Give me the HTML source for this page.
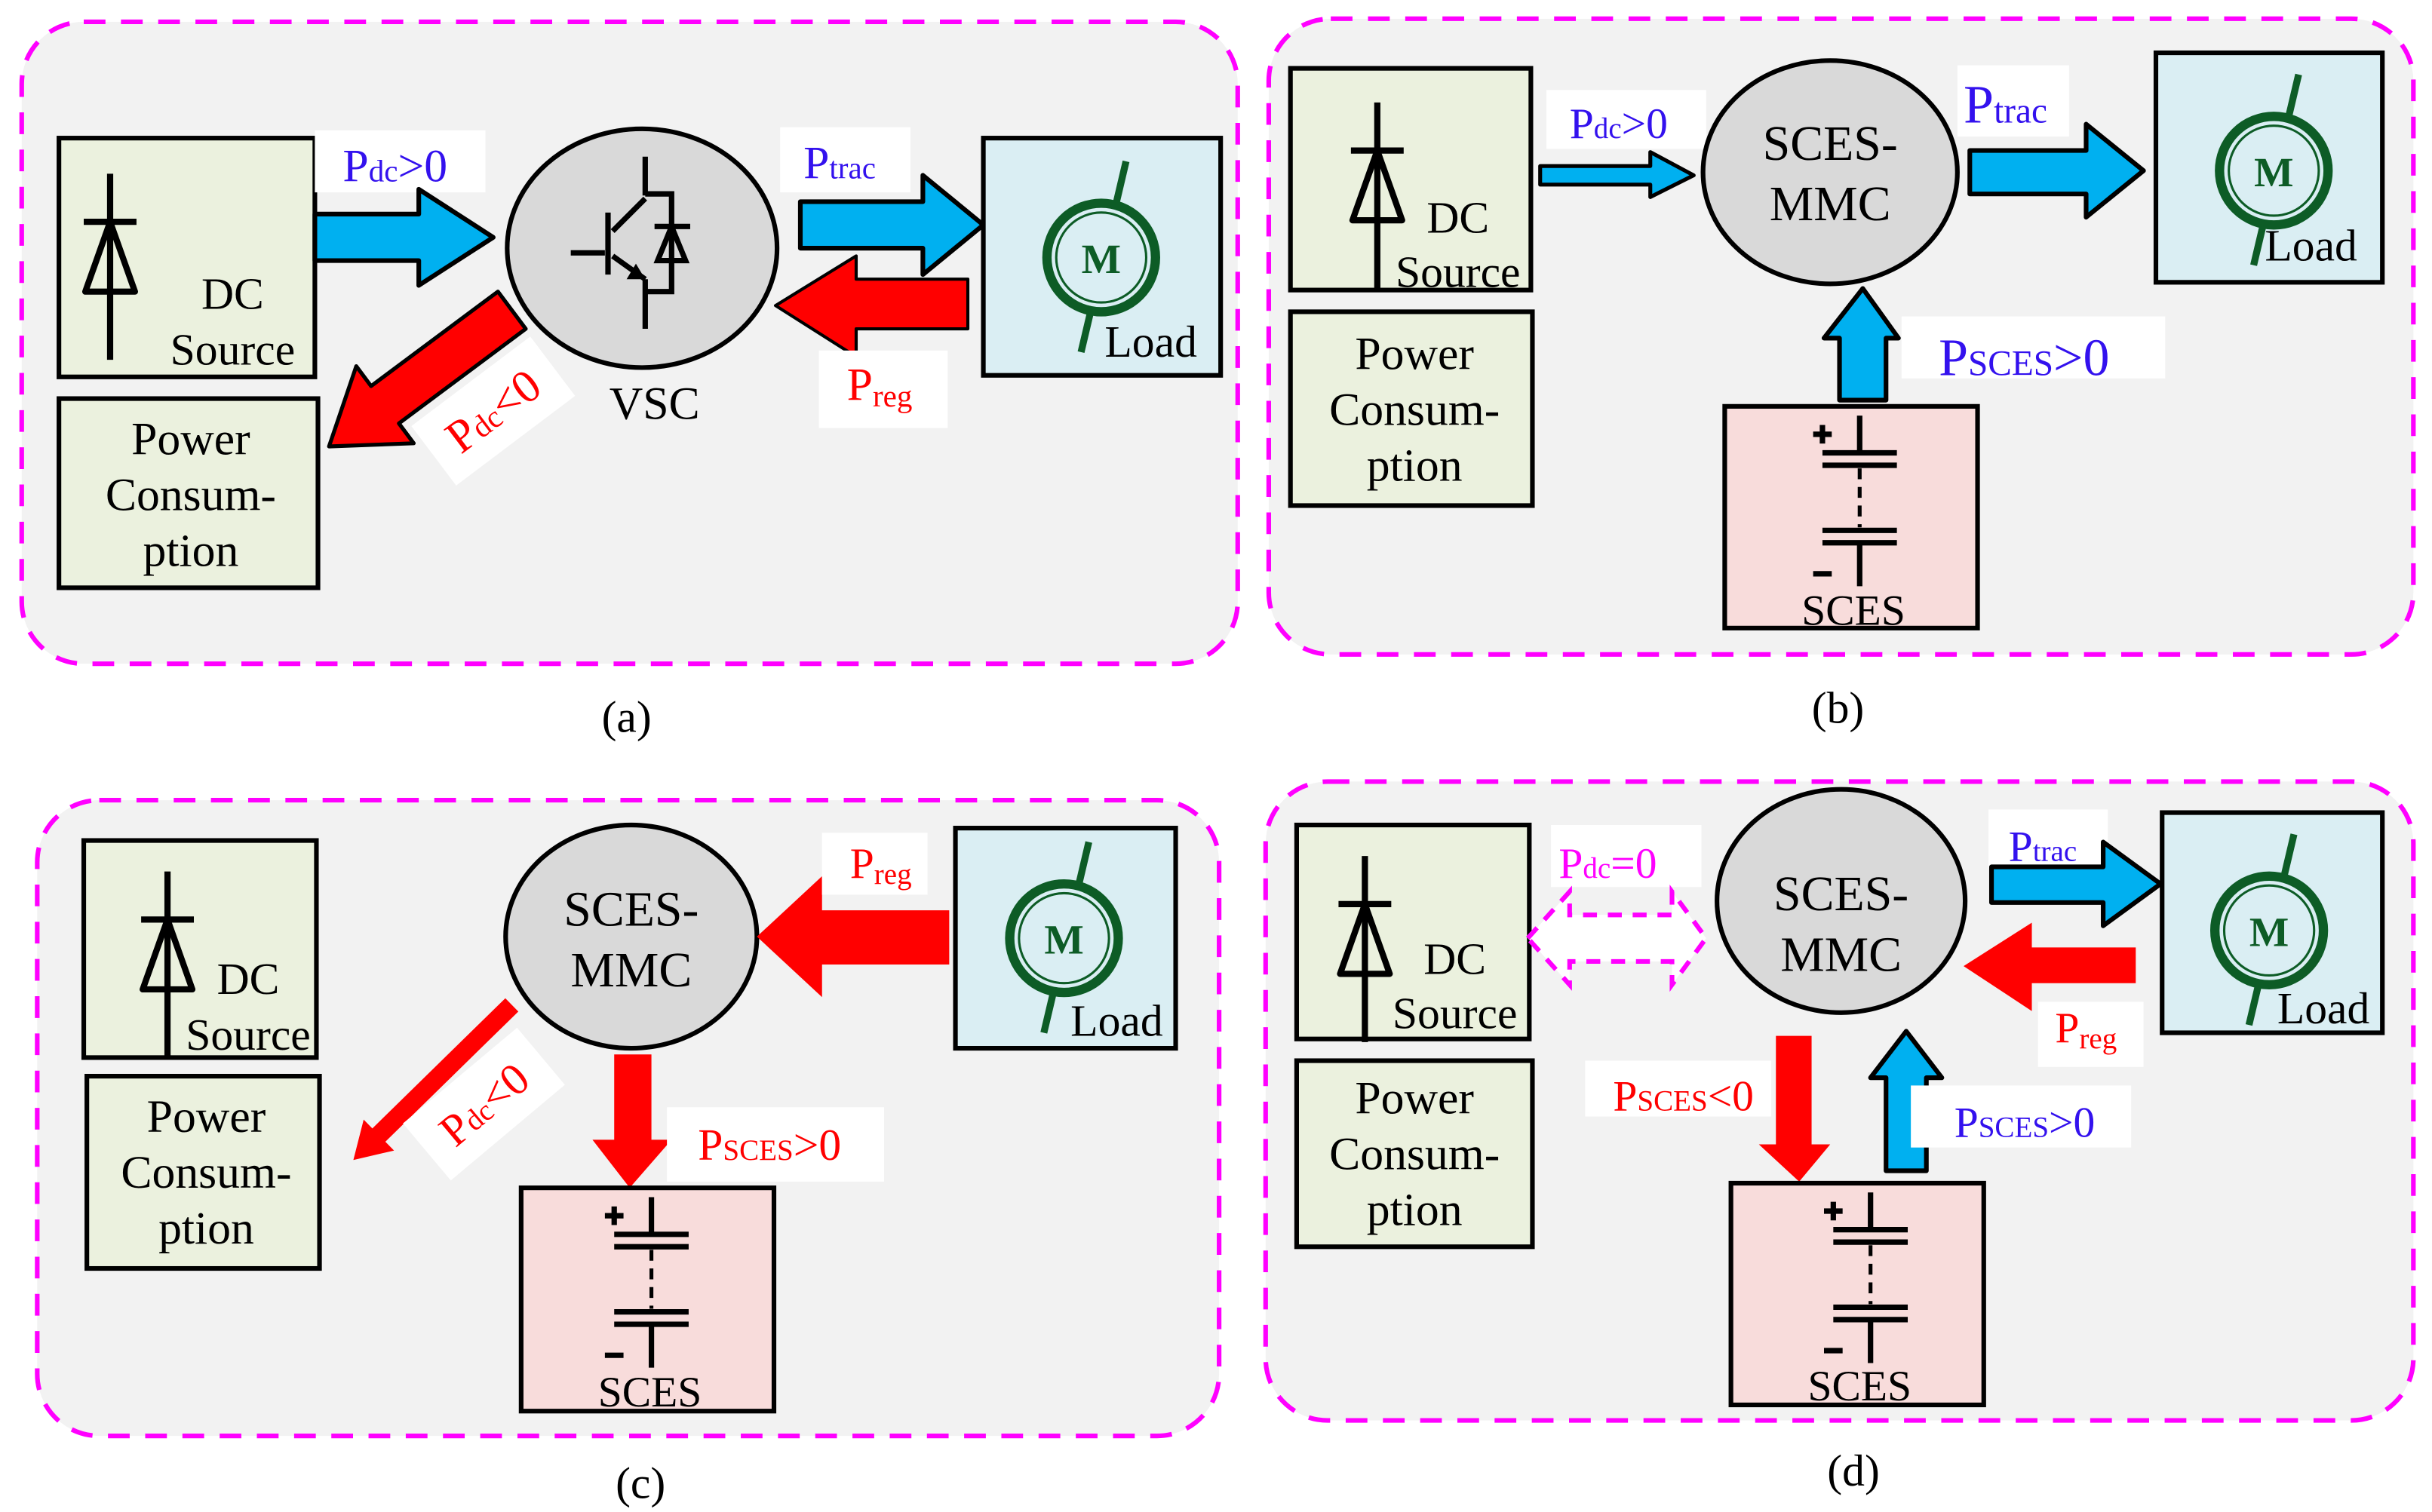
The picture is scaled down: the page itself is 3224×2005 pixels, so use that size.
<!DOCTYPE html>
<html><head><meta charset="utf-8"><style>
html,body{margin:0;padding:0;background:#fff;}
svg{display:block;}
text{font-family:"Liberation Serif",serif;}
</style></head><body>
<svg width="3224" height="2005" viewBox="0 0 1568 975" xmlns="http://www.w3.org/2000/svg">
<defs>
<g id="diode">
<line x1="0" y1="-31" x2="0" y2="89" stroke="#000" stroke-width="4"/>
<line x1="-17" y1="0" x2="17" y2="0" stroke="#000" stroke-width="4"/>
<polygon points="0,0 -16,45 16,45" fill="none" stroke="#000" stroke-width="4" stroke-linejoin="round"/>
</g>
<g id="motor">
<line x1="16" y1="-62" x2="-13" y2="61" stroke="#0d5c26" stroke-width="4.5"/>
<circle cx="0" cy="0" r="35" fill="#daeef3" stroke="#0d5c26" stroke-width="6"/>
<circle cx="0" cy="0" r="29" fill="none" stroke="#0d5c26" stroke-width="1.5"/>
<text x="0" y="10" font-size="27" font-weight="bold" fill="#0d5c26" text-anchor="middle">M</text>
</g>
<g id="batt" stroke="#000" stroke-width="3.5">
<line x1="0" y1="0" x2="0" y2="24"/>
<line x1="-24" y1="24" x2="24" y2="24"/>
<line x1="-24" y1="32" x2="24" y2="32"/>
<line x1="0" y1="34" x2="0" y2="72" stroke-dasharray="7,5" stroke-width="2.5"/>
<line x1="-24" y1="74" x2="24" y2="74"/>
<line x1="-24" y1="82" x2="24" y2="82"/>
<line x1="0" y1="82" x2="0" y2="110"/>
<line x1="-30" y1="12" x2="-18" y2="12"/>
<line x1="-24" y1="6" x2="-24" y2="18"/>
<line x1="-30" y1="102" x2="-18" y2="102"/>
</g>
</defs>

<!-- panel frames -->
<g fill="#f2f2f2" stroke="#ff00ff" stroke-width="3" stroke-dasharray="14,10">
<rect x="14" y="14" width="784" height="414" rx="40"/>
<rect x="818" y="12" width="738" height="410" rx="40"/>
<rect x="24" y="516" width="762" height="410" rx="40"/>
<rect x="816" y="504" width="740" height="412" rx="40"/>
</g>

<g font-size="29" fill="#000" text-anchor="middle">
<text x="404" y="472">(a)</text>
<text x="1185" y="466">(b)</text>
<text x="413" y="966">(c)</text>
<text x="1195" y="958">(d)</text>
</g>

<!-- ===== Panel A ===== -->
<rect x="38" y="89" width="165" height="154" fill="#ebf1de" stroke="#000" stroke-width="3"/>
<use href="#diode" x="71" y="143"/>
<text x="150" y="199" font-size="29" text-anchor="middle">DC</text>
<text x="150" y="235" font-size="29" text-anchor="middle">Source</text>
<rect x="38" y="257" width="167" height="122" fill="#ebf1de" stroke="#000" stroke-width="3"/>
<g font-size="30" text-anchor="middle"><text x="123" y="293">Power</text><text x="123" y="329">Consum-</text><text x="123" y="365">ption</text></g>
<rect x="203" y="84" width="110" height="40" fill="#fff"/>
<text x="221" y="117" font-size="30" fill="#3311ee">P<tspan font-size="20">dc</tspan>&gt;0</text>
<polygon points="203,138 270,138 270,122 318,153 270,184 270,168 203,168" fill="#00b0f0" stroke="#000" stroke-width="3" stroke-linejoin="round"/>
<ellipse cx="414" cy="160" rx="87" ry="77" fill="#d9d9d9" stroke="#000" stroke-width="3"/>
<g stroke="#000" stroke-width="3.5" fill="none">
<line x1="416" y1="101" x2="416" y2="126"/>
<line x1="416" y1="128" x2="395" y2="149"/>
<line x1="392" y1="137" x2="392" y2="177"/>
<line x1="368" y1="163" x2="390" y2="163"/>
<line x1="395" y1="165" x2="416" y2="180"/>
<line x1="416" y1="180" x2="416" y2="212"/>
<polyline points="416,125 433,125 433,188 416,188"/>
<line x1="422" y1="146" x2="445" y2="146"/>
<polygon points="433,146 424,168 442,168"/>
</g>
<polygon points="416,180 404,180 410,170" fill="#000"/>
<text x="422" y="270" font-size="30" text-anchor="middle">VSC</text>
<rect x="503" y="82" width="84" height="42" fill="#fff"/>
<text x="518" y="115" font-size="30" fill="#3311ee">P<tspan font-size="20">trac</tspan></text>
<polygon points="516,130 595,130 595,113 634,145 595,177 595,160 516,160" fill="#00b0f0" stroke="#000" stroke-width="3" stroke-linejoin="round"/>
<polygon points="624,180 552,180 552,165 500,197 552,230 552,212 624,212" fill="#ff0000" stroke="#000" stroke-width="2" stroke-linejoin="round"/>
<rect x="528" y="226" width="83" height="50" fill="#fff"/>
<text x="546" y="258" font-size="30" fill="#ff0000">P<tspan font-size="20" dy="4">reg</tspan></text>
<rect x="634" y="89" width="153" height="153" fill="#daeef3" stroke="#000" stroke-width="3"/>
<use href="#motor" x="710" y="166"/>
<text x="742" y="230" font-size="29" text-anchor="middle">Load</text>
<polygon points="0,-15 102,-15 102,-31 147,0 102,31 102,15 0,15" transform="translate(330,200) rotate(143.3)" fill="#ff0000" stroke="#000" stroke-width="2.5" stroke-linejoin="round"/>
<g transform="translate(318,265) rotate(-37)">
<rect x="-48" y="-24" width="96" height="48" fill="#fff"/>
<text x="0" y="10" font-size="30" fill="#ff0000" text-anchor="middle">P<tspan font-size="20">dc</tspan>&lt;0</text>
</g>

<!-- ===== Panel B ===== -->
<rect x="832" y="44" width="155" height="143" fill="#ebf1de" stroke="#000" stroke-width="3"/>
<use href="#diode" x="888" y="97"/>
<text x="940" y="150" font-size="29" text-anchor="middle">DC</text>
<text x="940" y="185" font-size="29" text-anchor="middle">Source</text>
<rect x="832" y="201" width="156" height="125" fill="#ebf1de" stroke="#000" stroke-width="3"/>
<g font-size="30" text-anchor="middle"><text x="912" y="238">Power</text><text x="912" y="274">Consum-</text><text x="912" y="310">ption</text></g>
<rect x="997" y="58" width="103" height="38" fill="#fff"/>
<text x="1012" y="89" font-size="28" fill="#3311ee">P<tspan font-size="19">dc</tspan>&gt;0</text>
<polygon points="993,107 1064,107 1064,98 1092,113 1064,127 1064,119 993,119" fill="#00b0f0" stroke="#000" stroke-width="2.5" stroke-linejoin="round"/>
<ellipse cx="1180" cy="111" rx="82" ry="72" fill="#d9d9d9" stroke="#000" stroke-width="3"/>
<g font-size="32" text-anchor="middle"><text x="1180" y="103">SCES-</text><text x="1180" y="142">MMC</text></g>
<rect x="1262" y="42" width="72" height="46" fill="#fff"/>
<text x="1266" y="79" font-size="35" fill="#3311ee">P<tspan font-size="23">trac</tspan></text>
<polygon points="1270,97 1345,97 1345,80 1382,110 1345,140 1345,125 1270,125" fill="#00b0f0" stroke="#000" stroke-width="3" stroke-linejoin="round"/>
<rect x="1390" y="34" width="146" height="148" fill="#daeef3" stroke="#000" stroke-width="3"/>
<use href="#motor" x="1466" y="110"/>
<text x="1490" y="168" font-size="29" text-anchor="middle">Load</text>
<polygon points="1186,258 1186,218 1176,218 1201,186 1224,218 1216,218 1216,258" fill="#00b0f0" stroke="#000" stroke-width="3" stroke-linejoin="round"/>
<rect x="1226" y="204" width="170" height="40" fill="#fff"/>
<text x="1250" y="242" font-size="34" fill="#3311ee">P<tspan font-size="23">SCES</tspan>&gt;0</text>
<rect x="1112" y="262" width="163" height="143" fill="#f8dcdb" stroke="#000" stroke-width="3"/>
<use href="#batt" x="1199" y="268"/>
<text x="1195" y="403" font-size="28" text-anchor="middle">SCES</text>

<!-- ===== Panel C ===== -->
<rect x="54" y="542" width="150" height="140" fill="#ebf1de" stroke="#000" stroke-width="3"/>
<use href="#diode" x="108" y="593"/>
<text x="160" y="641" font-size="29" text-anchor="middle">DC</text>
<text x="160" y="677" font-size="29" text-anchor="middle">Source</text>
<rect x="56" y="694" width="150" height="124" fill="#ebf1de" stroke="#000" stroke-width="3"/>
<g font-size="30" text-anchor="middle"><text x="133" y="730">Power</text><text x="133" y="766">Consum-</text><text x="133" y="802">ption</text></g>
<ellipse cx="407" cy="604" rx="81" ry="72" fill="#d9d9d9" stroke="#000" stroke-width="3"/>
<g font-size="32" text-anchor="middle"><text x="407" y="597">SCES-</text><text x="407" y="636">MMC</text></g>
<rect x="616" y="534" width="142" height="142" fill="#daeef3" stroke="#000" stroke-width="3"/>
<use href="#motor" x="686" y="605"/>
<text x="720" y="668" font-size="29" text-anchor="middle">Load</text>
<polygon points="612,587 530,587 530,565 488,604 530,643 530,622 612,622" fill="#ff0000"/>
<rect x="530" y="537" width="68" height="40" fill="#fff"/>
<text x="548" y="566" font-size="28" fill="#ff0000">P<tspan font-size="19" dy="4">reg</tspan></text>
<polygon points="396,680 420,680 420,735 433,735 406,766 382,735 396,735" fill="#ff0000"/>
<rect x="430" y="714" width="140" height="48" fill="#fff"/>
<text x="450" y="748" font-size="29" fill="#ff0000">P<tspan font-size="19">SCES</tspan>&gt;0</text>
<rect x="336" y="766" width="163" height="144" fill="#f8dcdb" stroke="#000" stroke-width="3"/>
<use href="#batt" x="420" y="772"/>
<text x="419" y="907" font-size="28" text-anchor="middle">SCES</text>
<polygon points="0,-6 120,-6 120,-14 143,0 120,14 120,6 0,6" transform="translate(330,648) rotate(135.6)" fill="#ff0000"/>
<g transform="translate(312,712) rotate(-40)">
<rect x="-48" y="-24" width="96" height="48" fill="#fff"/>
<text x="0" y="10" font-size="29" fill="#ff0000" text-anchor="middle">P<tspan font-size="19">dc</tspan>&lt;0</text>
</g>

<!-- ===== Panel D ===== -->
<rect x="836" y="532" width="150" height="138" fill="#ebf1de" stroke="#000" stroke-width="3"/>
<use href="#diode" x="880" y="583"/>
<text x="938" y="628" font-size="29" text-anchor="middle">DC</text>
<text x="938" y="663" font-size="29" text-anchor="middle">Source</text>
<rect x="836" y="684" width="152" height="120" fill="#ebf1de" stroke="#000" stroke-width="3"/>
<g font-size="30" text-anchor="middle"><text x="912" y="718">Power</text><text x="912" y="754">Consum-</text><text x="912" y="790">ption</text></g>
<rect x="1000" y="532" width="97" height="40" fill="#fff"/>
<text x="1005" y="566" font-size="28" fill="#ff00ff">P<tspan font-size="19">dc</tspan>=0</text>
<polygon points="985,605 1012,575 1012,590 1078,590 1078,575 1100,605 1078,635 1078,620 1012,620 1012,635" fill="#fff" stroke="#ff00ff" stroke-width="3" stroke-dasharray="9,7"/>
<ellipse cx="1187" cy="581" rx="80" ry="72" fill="#d9d9d9" stroke="#000" stroke-width="3"/>
<g font-size="32" text-anchor="middle"><text x="1187" y="587">SCES-</text><text x="1187" y="626">MMC</text></g>
<rect x="1282" y="522" width="77" height="38" fill="#fff"/>
<text x="1295" y="555" font-size="28" fill="#3311ee">P<tspan font-size="19">trac</tspan></text>
<polygon points="1284,559 1356,559 1356,543 1393,570 1356,597 1356,582 1284,582" fill="#00b0f0" stroke="#000" stroke-width="3" stroke-linejoin="round"/>
<polygon points="1377,611 1310,611 1310,595 1266,623 1310,652 1310,634 1377,634" fill="#ff0000"/>
<rect x="1314" y="646" width="68" height="42" fill="#fff"/>
<text x="1325" y="672" font-size="28" fill="#ff0000">P<tspan font-size="19" dy="4">reg</tspan></text>
<rect x="1394" y="524" width="142" height="142" fill="#daeef3" stroke="#000" stroke-width="3"/>
<use href="#motor" x="1463" y="600"/>
<text x="1498" y="660" font-size="29" text-anchor="middle">Load</text>
<rect x="1022" y="684" width="120" height="36" fill="#fff"/>
<text x="1040" y="716" font-size="28" fill="#ff0000">P<tspan font-size="19">SCES</tspan>&lt;0</text>
<polygon points="1145,668 1168,668 1168,738 1180,738 1160,762 1134,738 1145,738" fill="#ff0000"/>
<polygon points="1216,755 1216,695 1206,695 1229,665 1252,695 1242,695 1242,755" fill="#00b0f0" stroke="#000" stroke-width="3" stroke-linejoin="round"/>
<rect x="1232" y="700" width="142" height="40" fill="#fff"/>
<text x="1260" y="733" font-size="28" fill="#3311ee">P<tspan font-size="19">SCES</tspan>&gt;0</text>
<rect x="1116" y="763" width="163" height="143" fill="#f8dcdb" stroke="#000" stroke-width="3"/>
<use href="#batt" x="1206" y="769"/>
<text x="1199" y="903" font-size="28" text-anchor="middle">SCES</text>
</svg>
</body></html>
